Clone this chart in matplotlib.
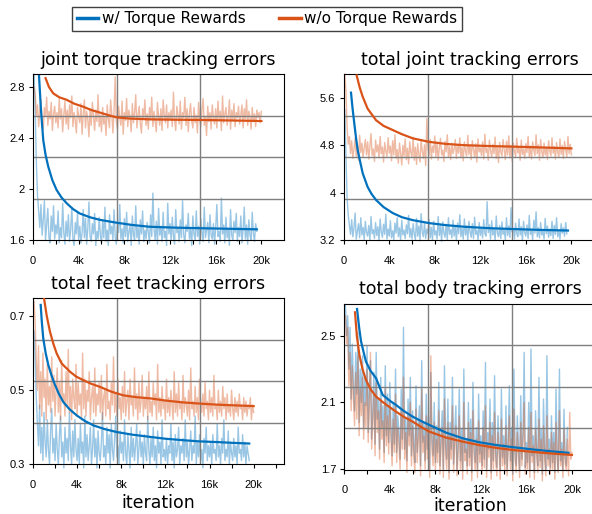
import numpy as np
import matplotlib
matplotlib.use("Agg")
import matplotlib.pyplot as plt
from matplotlib.ticker import FixedLocator, MultipleLocator, FuncFormatter

# colours (w/ = blue, w/o = orange)
c_w = "#0072BD"
c_wo = "#D95319"

# raw samples every 100 iterations
it_w = np.arange(100, 19601, 100)    # w/ torque rewards run stops at 19.6k
it_wo = np.arange(100, 20001, 100)

# ---- joint torque tracking errors ----
torque_wo_raw = [
    2.80, 2.74, 2.58, 2.66, 2.49, 2.62, 2.70, 2.53, 2.47, 2.64, 2.57, 2.72, 2.50, 2.61, 2.55, 2.68, 2.46, 2.59, 2.65, 2.52,
    2.60, 2.48, 2.71, 2.55, 2.63, 2.45, 2.58, 2.69, 2.51, 2.62, 2.47, 2.66, 2.56, 2.73, 2.49, 2.60, 2.54, 2.44, 2.64, 2.57,
    2.52, 2.67, 2.43, 2.59, 2.70, 2.48, 2.61, 2.55, 2.41, 2.63, 2.50, 2.68, 2.57, 2.46, 2.62, 2.53, 2.74, 2.49, 2.58, 2.45,
    2.64, 2.51, 2.57, 2.42, 2.66, 2.55, 2.48, 2.70, 2.59, 2.44, 2.61, 2.88, 2.53, 2.47, 2.65, 2.56, 2.50, 2.69, 2.43, 2.60,
    2.54, 2.71, 2.49, 2.62, 2.57, 2.45, 2.67, 2.52, 2.60, 2.74, 2.48, 2.58, 2.65, 2.51, 2.44, 2.63, 2.56, 2.70, 2.50, 2.59,
    2.47, 2.64, 2.55, 2.72, 2.49, 2.61, 2.53, 2.45, 2.68, 2.57, 2.50, 2.63, 2.46, 2.70, 2.58, 2.52, 2.66, 2.48, 2.60, 2.55,
    2.62, 2.49, 2.76, 2.54, 2.46, 2.65, 2.58, 2.51, 2.69, 2.47, 2.60, 2.56, 2.72, 2.50, 2.63, 2.45, 2.59, 2.67, 2.53, 2.48,
    2.64, 2.52, 2.58, 2.44, 2.68, 2.55, 2.49, 2.62, 2.71, 2.50, 2.57, 2.42, 2.65, 2.53, 2.60, 2.47, 2.66, 2.56, 2.51, 2.63,
    2.48, 2.69, 2.55, 2.61, 2.46, 2.73, 2.52, 2.59, 2.64, 2.50, 2.57, 2.70, 2.47, 2.62, 2.54, 2.67, 2.49, 2.60, 2.56, 2.65,
    2.51, 2.58, 2.66, 2.48, 2.63, 2.55, 2.70, 2.50, 2.61, 2.57, 2.47, 2.64, 2.53, 2.59, 2.49, 2.62, 2.56, 2.60, 2.52, 2.61]
torque_w_raw = [
    2.90, 2.60, 2.20, 1.95, 1.82, 1.70, 1.88, 1.64, 1.76, 1.91, 1.60, 1.73, 1.85, 1.62, 1.58, 1.79, 1.67, 1.87, 1.61, 1.72,
    1.65, 1.83, 1.58, 1.70, 1.62, 1.89, 1.66, 1.57, 1.75, 1.63, 1.80, 1.59, 1.68, 1.86, 1.61, 1.56, 1.74, 1.65, 1.82, 1.60,
    1.71, 1.58, 1.66, 1.84, 1.62, 1.77, 1.57, 1.69, 1.90, 1.63, 1.59, 1.73, 1.65, 1.81, 1.56, 1.67, 1.61, 1.78, 1.64, 1.58,
    1.75, 1.62, 1.86, 1.59, 1.68, 1.56, 1.80, 1.65, 1.71, 1.60, 1.84, 1.63, 1.57, 1.74, 1.66, 1.88, 1.61, 1.69, 1.58, 1.77,
    1.63, 1.82, 1.59, 1.67, 1.72, 1.56, 1.79, 1.64, 1.60, 1.87, 1.62, 1.70, 1.57, 1.76, 1.65, 1.83, 1.59, 1.68, 1.61, 1.74,
    1.66, 1.58, 1.80, 1.63, 1.97, 1.69, 1.60, 1.75, 1.57, 1.85, 1.64, 1.71, 1.59, 1.82, 1.62, 1.67, 1.56, 1.89, 1.65, 1.73,
    1.60, 1.78, 1.63, 1.57, 1.84, 1.66, 1.70, 1.59, 1.76, 1.62, 1.91, 1.64, 1.58, 1.72, 1.67, 1.81, 1.61, 1.69, 1.56, 1.79,
    1.65, 1.60, 1.83, 1.63, 1.71, 1.57, 1.77, 1.66, 1.59, 1.86, 1.62, 1.68, 1.74, 1.58, 1.80, 1.64, 1.61, 1.73, 1.57, 1.70,
    1.88, 1.63, 1.67, 1.59, 1.93, 1.65, 1.72, 1.58, 1.78, 1.62, 1.69, 1.56, 1.84, 1.64, 1.60, 1.75, 1.66, 1.81, 1.59, 1.70,
    1.63, 1.79, 1.58, 1.68, 1.86, 1.61, 1.72, 1.57, 1.76, 1.64, 1.60, 1.82, 1.65, 1.59, 1.73, 1.67]
torque_wo_it = [1100, 1400, 1780, 2300, 2950, 3600, 4400, 5100, 5870, 6600, 7300, 8500, 10200, 12500, 15000, 17500, 20000]
torque_wo_avg = [2.87, 2.80, 2.75, 2.72, 2.70, 2.67, 2.646, 2.62, 2.60, 2.58, 2.563, 2.553, 2.547, 2.544, 2.542, 2.538, 2.534]
torque_w_it = [530, 700, 900, 1100, 1340, 1700, 2070, 2500, 2950, 3500, 4100, 5000, 5870, 7300, 8700, 10200, 12500, 15000, 17300, 19600]
torque_w_avg = [2.886, 2.62, 2.385, 2.27, 2.176, 2.07, 1.994, 1.935, 1.89, 1.845, 1.81, 1.78, 1.76, 1.738, 1.72, 1.706, 1.699, 1.694, 1.69, 1.686]

# ---- total joint tracking errors ----
joint_wo_raw = [
    6.00, 5.70, 5.10, 4.82, 4.95, 4.66, 4.88, 4.58, 4.74, 4.92, 4.62, 4.80, 4.55, 4.97, 4.68, 4.84, 4.60, 4.76, 4.90, 4.64,
    4.86, 4.57, 4.78, 5.00, 4.63, 4.74, 4.53, 4.89, 4.69, 4.81, 4.59, 4.95, 4.66, 4.77, 4.52, 4.85, 4.70, 4.61, 4.93, 4.67,
    4.79, 4.54, 4.88, 4.64, 4.98, 4.58, 4.73, 4.50, 4.84, 4.67, 4.47, 4.80, 4.62, 4.91, 4.56, 4.75, 4.49, 4.86, 4.68, 4.60,
    4.94, 4.55, 4.77, 4.48, 4.83, 4.65, 4.52, 4.89, 4.70, 4.58, 4.81, 4.46, 5.25, 4.74, 4.63, 4.90, 4.57, 4.79, 4.68, 4.96,
    4.61, 4.85, 4.55, 4.76, 4.92, 4.64, 4.72, 4.53, 4.87, 4.69, 4.98, 4.60, 4.78, 4.56, 4.84, 4.66, 4.74, 4.90, 4.58, 4.81,
    4.67, 4.93, 4.59, 4.77, 4.54, 4.86, 4.70, 4.62, 4.97, 4.65, 4.80, 4.56, 4.88, 4.73, 4.60, 4.83, 4.52, 4.91, 4.69, 4.76,
    4.63, 4.86, 4.57, 4.99, 4.68, 4.75, 4.55, 4.89, 4.71, 4.60, 4.82, 4.66, 4.94, 4.58, 4.78, 4.51, 4.85, 4.69, 4.62, 4.90,
    4.73, 4.56, 4.87, 4.64, 4.96, 4.59, 4.80, 4.53, 4.84, 4.70, 4.61, 4.92, 4.67, 4.77, 4.55, 4.89, 4.65, 4.74, 4.58, 4.83,
    4.68, 4.95, 4.60, 4.79, 4.57, 4.86, 4.72, 4.63, 4.98, 4.66, 4.81, 4.55, 4.90, 4.70, 4.59, 4.84, 4.64, 4.77, 4.56, 4.88,
    4.71, 4.62, 4.93, 4.67, 4.78, 4.57, 4.85, 4.69, 4.60, 4.91, 4.65, 4.80, 4.58, 4.87, 4.73, 4.61, 4.95, 4.66, 4.82, 4.64]
joint_w_raw = [
    5.40, 4.60, 3.90, 3.62, 3.45, 3.30, 3.55, 3.26, 3.40, 3.66, 3.22, 3.35, 3.48, 3.24, 3.58, 3.29, 3.42, 3.21, 3.52, 3.33,
    3.27, 3.45, 3.20, 3.60, 3.31, 3.38, 3.23, 3.50, 3.28, 3.43, 3.19, 3.56, 3.34, 3.25, 3.47, 3.30, 3.64, 3.22, 3.39, 3.27,
    3.53, 3.24, 3.36, 3.21, 3.49, 3.32, 3.58, 3.26, 3.41, 3.20, 3.54, 3.29, 3.37, 3.23, 3.46, 3.31, 3.62, 3.25, 3.40, 3.22,
    3.48, 3.30, 3.21, 3.57, 3.27, 3.44, 3.19, 3.65, 3.33, 3.26, 3.50, 3.23, 3.39, 3.31, 3.55, 3.24, 3.42, 3.20, 3.52, 3.29,
    3.36, 3.22, 3.60, 3.28, 3.45, 3.18, 3.51, 3.32, 3.25, 3.47, 3.21, 3.58, 3.30, 3.38, 3.24, 3.54, 3.27, 3.43, 3.19, 3.49,
    3.31, 3.63, 3.26, 3.40, 3.22, 3.56, 3.29, 3.44, 3.20, 3.52, 3.34, 3.25, 3.48, 3.23, 3.59, 3.30, 3.37, 3.21, 3.50, 3.28,
    3.42, 3.24, 3.55, 3.31, 3.27, 3.85, 3.33, 3.46, 3.22, 3.53, 3.29, 3.39, 3.20, 3.61, 3.32, 3.26, 3.45, 3.23, 3.51, 3.30,
    3.37, 3.21, 3.58, 3.28, 3.44, 3.25, 3.75, 3.34, 3.40, 3.22, 3.49, 3.31, 3.26, 3.56, 3.29, 3.43, 3.20, 3.52, 3.33, 3.27,
    3.46, 3.23, 3.62, 3.30, 3.38, 3.21, 3.54, 3.32, 3.68, 3.26, 3.41, 3.24, 3.50, 3.29, 3.35, 3.22, 3.57, 3.31, 3.44, 3.25,
    3.39, 3.28, 3.52, 3.23, 3.45, 3.30, 3.58, 3.26, 3.36, 3.22, 3.48, 3.32, 3.41, 3.27, 3.50, 3.31]
joint_wo_it = [1140, 1400, 1670, 2100, 2840, 3500, 4300, 5100, 6060, 7500, 9000, 10500, 12700, 14850, 17500, 20000]
joint_wo_avg = [5.98, 5.78, 5.62, 5.42, 5.225, 5.13, 5.06, 4.99, 4.92, 4.86, 4.825, 4.805, 4.79, 4.78, 4.765, 4.75]
joint_w_it = [640, 780, 930, 1080, 1230, 1450, 1670, 2100, 2450, 2840, 3500, 4300, 5100, 6060, 7500, 9000, 10500, 12700, 14850, 17300, 19700]
joint_w_avg = [5.69, 5.42, 5.17, 4.93, 4.72, 4.52, 4.33, 4.10, 3.98, 3.88, 3.76, 3.66, 3.59, 3.54, 3.49, 3.455, 3.43, 3.405, 3.39, 3.375, 3.365]

# ---- total feet tracking errors ----
feet_wo_raw = [
    0.74, 0.68, 0.58, 0.50, 0.62, 0.45, 0.55, 0.43, 0.60, 0.48, 0.53, 0.42, 0.57, 0.46, 0.51, 0.44, 0.59, 0.47, 0.54, 0.43,
    0.50, 0.56, 0.44, 0.52, 0.42, 0.58, 0.47, 0.49, 0.43, 0.55, 0.46, 0.61, 0.44, 0.51, 0.42, 0.53, 0.48, 0.45, 0.57, 0.43,
    0.52, 0.46, 0.49, 0.42, 0.60, 0.45, 0.53, 0.43, 0.50, 0.47, 0.55, 0.42, 0.48, 0.51, 0.44, 0.56, 0.43, 0.49, 0.46, 0.52,
    0.44, 0.54, 0.42, 0.48, 0.50, 0.43, 0.57, 0.45, 0.47, 0.42, 0.52, 0.46, 0.59, 0.44, 0.49, 0.43, 0.53, 0.45, 0.48, 0.42,
    0.51, 0.44, 0.55, 0.43, 0.47, 0.50, 0.42, 0.53, 0.46, 0.48, 0.43, 0.56, 0.45, 0.49, 0.42, 0.52, 0.44, 0.47, 0.54, 0.43,
    0.48, 0.45, 0.51, 0.42, 0.55, 0.44, 0.47, 0.43, 0.52, 0.46, 0.49, 0.42, 0.57, 0.44, 0.48, 0.43, 0.51, 0.45, 0.47, 0.42,
    0.53, 0.44, 0.48, 0.43, 0.50, 0.46, 0.42, 0.55, 0.44, 0.49, 0.43, 0.52, 0.45, 0.47, 0.42, 0.54, 0.44, 0.48, 0.46, 0.43,
    0.50, 0.42, 0.56, 0.45, 0.47, 0.43, 0.51, 0.44, 0.48, 0.42, 0.53, 0.46, 0.44, 0.49, 0.43, 0.52, 0.45, 0.47, 0.42, 0.50,
    0.44, 0.48, 0.43, 0.54, 0.45, 0.46, 0.42, 0.50, 0.44, 0.47, 0.43, 0.51, 0.45, 0.48, 0.42, 0.49, 0.44, 0.46, 0.43, 0.50,
    0.45, 0.42, 0.48, 0.44, 0.47, 0.43, 0.49, 0.45, 0.46, 0.42, 0.48, 0.44, 0.47, 0.43, 0.46, 0.45, 0.48, 0.42, 0.46, 0.44]
feet_w_raw = [
    0.66, 0.58, 0.48, 0.41, 0.35, 0.46, 0.33, 0.40, 0.31, 0.44, 0.36, 0.32, 0.42, 0.34, 0.30, 0.39, 0.45, 0.33, 0.37, 0.31,
    0.41, 0.34, 0.30, 0.38, 0.43, 0.32, 0.36, 0.29, 0.40, 0.33, 0.37, 0.31, 0.44, 0.35, 0.30, 0.39, 0.32, 0.42, 0.34, 0.31,
    0.37, 0.30, 0.41, 0.33, 0.36, 0.29, 0.43, 0.32, 0.38, 0.31, 0.35, 0.40, 0.30, 0.34, 0.42, 0.32, 0.37, 0.29, 0.39, 0.33,
    0.31, 0.36, 0.44, 0.32, 0.35, 0.30, 0.40, 0.33, 0.38, 0.29, 0.41, 0.34, 0.31, 0.37, 0.43, 0.32, 0.35, 0.30, 0.39, 0.33,
    0.36, 0.31, 0.42, 0.33, 0.30, 0.38, 0.34, 0.29, 0.40, 0.32, 0.37, 0.31, 0.35, 0.41, 0.30, 0.34, 0.39, 0.32, 0.36, 0.30,
    0.38, 0.33, 0.31, 0.43, 0.34, 0.30, 0.37, 0.32, 0.40, 0.31, 0.35, 0.29, 0.39, 0.33, 0.36, 0.30, 0.42, 0.32, 0.34, 0.31,
    0.37, 0.30, 0.35, 0.33, 0.41, 0.31, 0.36, 0.29, 0.38, 0.32, 0.34, 0.40, 0.30, 0.35, 0.33, 0.37, 0.31, 0.42, 0.32, 0.36,
    0.30, 0.34, 0.39, 0.31, 0.35, 0.33, 0.43, 0.30, 0.36, 0.32, 0.38, 0.31, 0.34, 0.29, 0.37, 0.33, 0.40, 0.31, 0.35, 0.32,
    0.36, 0.30, 0.38, 0.33, 0.34, 0.31, 0.41, 0.32, 0.35, 0.30, 0.37, 0.33, 0.42, 0.31, 0.34, 0.32, 0.39, 0.30, 0.36, 0.33,
    0.31, 0.37, 0.32, 0.35, 0.30, 0.40, 0.33, 0.34, 0.31, 0.38, 0.32, 0.36, 0.30, 0.35, 0.33, 0.31]
feet_wo_it = [1000, 1250, 1540, 1850, 2150, 2600, 3350, 3900, 4560, 5300, 6070, 7100, 8190, 9400, 10600, 12000, 13600, 15000, 16650, 18300, 20000]
feet_wo_avg = [0.748, 0.70, 0.658, 0.625, 0.599, 0.572, 0.55, 0.537, 0.527, 0.517, 0.509, 0.496, 0.486, 0.481, 0.478, 0.472, 0.467, 0.464, 0.461, 0.459, 0.457]
feet_w_it = [700, 800, 930, 1150, 1390, 1700, 2000, 2350, 2750, 3300, 3960, 4700, 5470, 6500, 7590, 9000, 10600, 12000, 13600, 15000, 16650, 18000, 19600]
feet_w_avg = [0.73, 0.685, 0.64, 0.60, 0.568, 0.538, 0.514, 0.49, 0.468, 0.449, 0.432, 0.417, 0.405, 0.395, 0.387, 0.38, 0.374, 0.369, 0.365, 0.362, 0.36, 0.358, 0.356]

# ---- total body tracking errors ----
body_w_raw = [
    2.68, 2.50, 2.62, 2.30, 2.55, 2.12, 2.45, 2.20, 2.05, 2.40, 2.15, 2.52, 1.98, 2.30, 2.10, 2.38, 1.95, 2.25, 2.08, 2.44,
    1.92, 2.18, 2.35, 1.88, 2.05, 2.28, 1.85, 2.40, 2.00, 2.12, 1.82, 2.25, 1.95, 2.08, 1.80, 2.32, 1.90, 2.15, 1.86, 2.22,
    1.95, 1.78, 2.10, 1.85, 2.30, 1.80, 2.02, 1.92, 1.76, 2.18, 1.88, 2.55, 1.82, 2.00, 1.75, 2.12, 1.90, 2.25, 1.78, 2.05,
    1.84, 1.74, 2.20, 1.80, 1.95, 2.08, 1.72, 2.35, 1.86, 1.98, 1.75, 2.15, 1.82, 2.02, 1.70, 2.28, 1.88, 1.78, 2.10, 1.74,
    1.96, 1.80, 2.22, 1.72, 1.90, 2.05, 1.70, 2.32, 1.84, 1.76, 2.12, 1.68, 1.98, 1.82, 2.25, 1.73, 1.92, 2.08, 1.70, 1.86,
    2.18, 1.75, 1.94, 1.69, 2.30, 1.80, 1.88, 1.72, 2.10, 1.77, 2.00, 1.68, 2.22, 1.83, 1.74, 1.95, 1.70, 2.15, 1.79, 1.90,
    1.72, 2.05, 1.76, 2.34, 1.70, 1.92, 1.82, 2.12, 1.68, 1.98, 1.75, 2.26, 1.80, 1.71, 2.02, 1.85, 1.69, 2.18, 1.77, 1.90,
    1.73, 2.08, 1.70, 1.88, 2.20, 1.75, 1.95, 1.67, 2.30, 1.80, 1.72, 2.02, 1.84, 1.69, 2.14, 1.76, 1.92, 2.40, 1.71, 1.86,
    1.74, 2.10, 1.69, 2.42, 1.78, 1.90, 1.68, 2.05, 1.82, 1.72, 2.25, 1.75, 1.94, 1.67, 2.12, 1.80, 1.70, 2.38, 1.76, 1.88,
    1.71, 2.02, 1.74, 1.92, 1.68, 2.18, 1.79, 1.70, 2.30, 1.75, 1.86, 1.69, 2.06, 1.77, 1.72, 1.95]
body_wo_raw = [
    2.62, 2.45, 2.55, 2.20, 2.40, 2.05, 2.32, 2.12, 1.96, 2.28, 2.00, 2.38, 1.90, 2.18, 2.02, 2.25, 1.88, 2.10, 1.95, 2.30,
    1.86, 2.08, 2.40, 1.82, 1.98, 2.15, 1.78, 2.22, 1.92, 2.05, 1.76, 2.12, 1.88, 1.99, 1.74, 2.18, 1.84, 2.02, 1.79, 2.10,
    1.88, 1.72, 2.00, 1.80, 2.15, 1.74, 1.95, 1.85, 1.70, 2.05, 1.82, 2.25, 1.76, 1.92, 1.68, 2.02, 1.84, 2.10, 1.72, 1.96,
    1.78, 1.68, 2.06, 1.74, 1.88, 1.98, 1.66, 2.18, 1.80, 1.90, 1.70, 2.02, 1.76, 1.94, 1.65, 2.38, 1.82, 1.72, 1.98, 1.69,
    1.88, 1.74, 2.05, 1.67, 1.84, 1.95, 1.65, 2.12, 1.78, 1.70, 1.98, 1.64, 1.90, 1.76, 2.08, 1.68, 1.85, 1.96, 1.66, 1.80,
    2.02, 1.70, 1.88, 1.64, 2.10, 1.75, 1.82, 1.67, 1.98, 1.72, 1.92, 1.63, 2.05, 1.78, 1.69, 1.88, 1.65, 1.99, 1.74, 1.84,
    1.67, 1.95, 1.71, 2.08, 1.65, 1.86, 1.77, 1.98, 1.64, 1.90, 1.70, 2.04, 1.75, 1.66, 1.92, 1.80, 1.64, 2.00, 1.72, 1.85,
    1.68, 1.96, 1.66, 1.82, 2.02, 1.70, 1.88, 1.63, 2.06, 1.76, 1.68, 1.92, 1.79, 1.65, 1.98, 1.72, 1.86, 2.10, 1.67, 1.80,
    1.70, 1.95, 1.65, 2.04, 1.74, 1.84, 1.64, 1.94, 1.78, 1.68, 2.00, 1.71, 1.88, 1.63, 1.96, 1.76, 1.66, 2.02, 1.72, 1.82,
    1.67, 1.92, 1.70, 1.86, 1.64, 1.98, 1.75, 1.68, 2.05, 1.72, 1.82, 1.65, 1.94, 1.74, 1.69, 1.88, 1.66, 2.04, 1.76, 1.80]
body_w_it = [1120, 1300, 1470, 1700, 1900, 2300, 2790, 3370, 4000, 4540, 5200, 6000, 6700, 7470, 8900, 10400, 11800, 13300, 14800, 16300, 18000, 19700]
body_w_avg = [2.66, 2.55, 2.466, 2.40, 2.345, 2.29, 2.245, 2.145, 2.11, 2.085, 2.05, 2.015, 1.99, 1.965, 1.92, 1.885, 1.862, 1.845, 1.832, 1.82, 1.808, 1.798]
body_wo_it = [940, 1100, 1320, 1600, 1900, 2300, 2790, 3600, 4540, 5200, 6000, 6700, 7470, 8900, 10400, 11800, 13300, 14800, 16300, 18000, 20000]
body_wo_avg = [2.64, 2.50, 2.386, 2.30, 2.235, 2.18, 2.135, 2.09, 2.045, 2.015, 1.985, 1.955, 1.925, 1.89, 1.865, 1.845, 1.828, 1.815, 1.805, 1.795, 1.785]

titles = ["joint torque tracking errors", "total joint tracking errors",
          "total feet tracking errors", "total body tracking errors"]
yticks = [[1.6, 2, 2.4, 2.8], [3.2, 4, 4.8, 5.6], [0.3, 0.5, 0.7], [1.7, 2.1, 2.5]]
ytick_labels = [["1.6", "2", "2.4", "2.8"], ["3.2", "4", "4.8", "5.6"],
                ["0.3", "0.5", "0.7"], ["1.7", "2.1", "2.5"]]
ylims = [(1.6, 2.9), (3.2, 6.0), (0.3, 0.748), (1.695, 2.69)]
xmax = [21980, 22140, 22750, 22140]
xlabel_pad = [0, 0, 3, 1]

panels = [
    (torque_w_raw, torque_wo_raw, torque_w_it, torque_w_avg, torque_wo_it, torque_wo_avg),
    (joint_w_raw, joint_wo_raw, joint_w_it, joint_w_avg, joint_wo_it, joint_wo_avg),
    (feet_w_raw, feet_wo_raw, feet_w_it, feet_w_avg, feet_wo_it, feet_wo_avg),
    (body_w_raw, body_wo_raw, body_w_it, body_w_avg, body_wo_it, body_wo_avg),
]

# axes boxes in figure fractions [left, bottom, width, height]
boxes = [[0.0557, 0.5325, 0.424, 0.323],
         [0.5806, 0.5325, 0.4257, 0.323],
         [0.0557, 0.0967, 0.424, 0.323],
         [0.5816, 0.0856, 0.4257, 0.323]]

fig = plt.figure(figsize=(5.92, 5.14), dpi=100)

for i in range(4):
    ax = fig.add_axes(boxes[i])
    w_raw, wo_raw, w_it, w_avg, wo_it, wo_avg = panels[i]
    ax.plot(it_w, w_raw, color=c_w, alpha=0.4, lw=1.0, clip_on=False, zorder=1)
    ax.plot(it_wo, wo_raw, color=c_wo, alpha=0.4, lw=1.0, clip_on=False, zorder=1.1)
    # grid splits the box in 3 x 4 cells
    lo, hi = ylims[i]
    for fx in (1 / 3, 2 / 3):
        ax.axvline(fx * xmax[i], color="#7f7f7f", lw=1, zorder=2)
    for fy in (0.25, 0.5, 0.75):
        ax.axhline(lo + fy * (hi - lo), color="#7f7f7f", lw=1, zorder=2)
    ax.plot(w_it, w_avg, color=c_w, lw=1.6, zorder=3)
    ax.plot(wo_it, wo_avg, color=c_wo, lw=1.6, zorder=3)

    ax.set_xlim(0, xmax[i])
    ax.set_ylim(lo, hi)
    ax.xaxis.set_major_locator(FixedLocator([0, 4000, 8000, 12000, 16000, 20000]))
    ax.xaxis.set_minor_locator(MultipleLocator(2000))
    ax.xaxis.set_major_formatter(FuncFormatter(lambda v, p: "0" if v == 0 else "%dk" % (v / 1000)))
    ax.set_yticks(yticks[i])
    ax.set_yticklabels(ytick_labels[i])
    for lab in ax.get_xticklabels() + ax.get_yticklabels():
        lab.set_fontfamily("Liberation Sans")
        lab.set_fontsize(8)
    ax.tick_params(axis="x", which="both", length=3, width=0.8, pad=8)
    ax.tick_params(axis="y", length=3, width=0.8, pad=3)
    for s in ax.spines.values():
        s.set_linewidth(0.8)
    ax.set_title(titles[i], fontsize=12.5, pad=7)
    if i >= 2:
        ax.set_xlabel("iteration", fontsize=12.5, labelpad=xlabel_pad[i])

h1, = plt.plot([], [], color=c_w, lw=2.5)
h2, = plt.plot([], [], color=c_wo, lw=2.5)
fig.legend([h1, h2], ["w/ Torque Rewards", "w/o Torque Rewards"], loc="center",
           bbox_to_anchor=(267 / 592, 1 - 19 / 514), ncol=2, fontsize=11,
           fancybox=False, edgecolor="#404040", framealpha=1, handlelength=1.4,
           handletextpad=0.25, columnspacing=2.2, borderpad=0.3, borderaxespad=0)

fig.savefig("out.png", dpi=100)
